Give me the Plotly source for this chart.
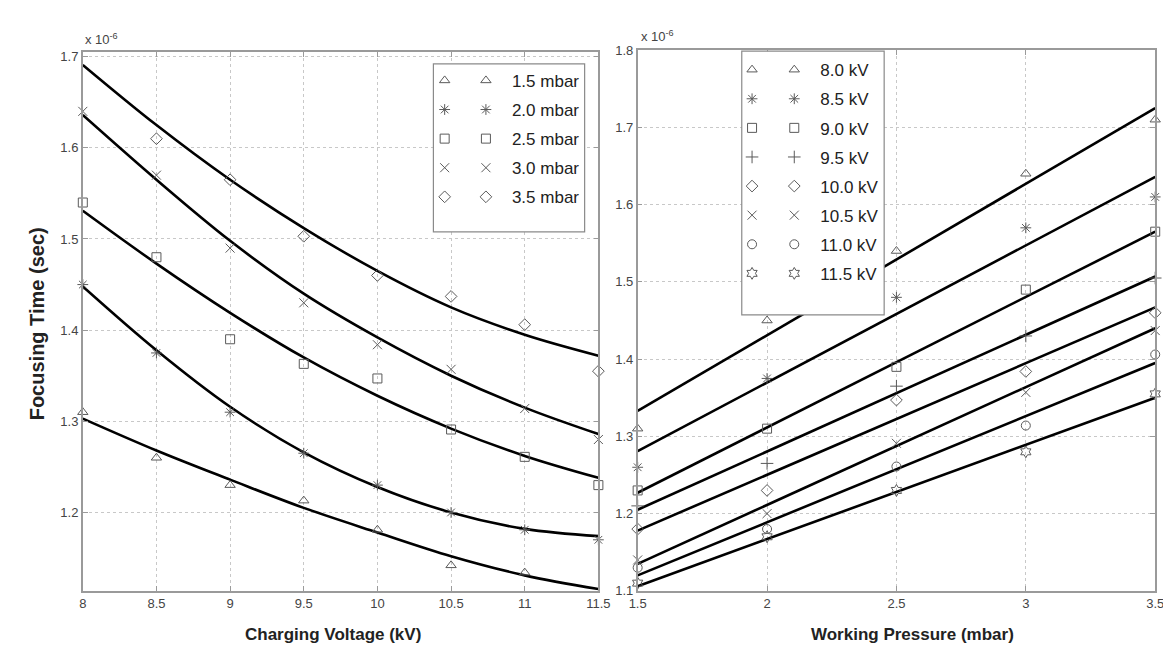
import plotly.graph_objects as go

W, H = 1171, 648

# ---------------- data ----------------
voltage_kv = [8.0, 8.5, 9.0, 9.5, 10.0, 10.5, 11.0, 11.5]
pressure_mbar = [1.5, 2.0, 2.5, 3.0, 3.5]

pressure_names = ["1.5 mbar", "2.0 mbar", "2.5 mbar", "3.0 mbar", "3.5 mbar"]
# measured focusing time (x 1e-6 s) vs charging voltage, one list per pressure
t_p15 = [1.31, 1.26, 1.23, 1.213, 1.181, 1.142, 1.134, 1.112]
t_p20 = [1.45, 1.375, 1.31, 1.265, 1.23, 1.20, 1.181, 1.17]
t_p25 = [1.54, 1.48, 1.39, 1.363, 1.347, 1.291, 1.261, 1.23]
t_p30 = [1.64, 1.57, 1.49, 1.43, 1.384, 1.357, 1.314, 1.28]
t_p35 = [1.71, 1.61, 1.565, 1.503, 1.46, 1.437, 1.406, 1.355]
# fitted curves (x 1e-6 s) vs charging voltage
fit_p15 = [1.303, 1.268, 1.236, 1.205, 1.178, 1.152, 1.131, 1.116]
fit_p20 = [1.448, 1.378, 1.316, 1.266, 1.228, 1.200, 1.182, 1.174]
fit_p25 = [1.531, 1.473, 1.419, 1.370, 1.328, 1.292, 1.262, 1.238]
fit_p30 = [1.636, 1.565, 1.498, 1.440, 1.392, 1.350, 1.315, 1.286]
fit_p35 = [1.691, 1.625, 1.565, 1.512, 1.465, 1.425, 1.395, 1.372]

voltage_names = ["8.0 kV", "8.5 kV", "9.0 kV", "9.5 kV",
                 "10.0 kV", "10.5 kV", "11.0 kV", "11.5 kV"]
# measured focusing time (x 1e-6 s) vs working pressure, one list per voltage
t_v80 = [1.31, 1.45, 1.54, 1.64, 1.71]
t_v85 = [1.26, 1.375, 1.48, 1.57, 1.61]
t_v90 = [1.23, 1.31, 1.39, 1.49, 1.565]
t_v95 = [1.21, 1.265, 1.365, 1.43, 1.505]
t_v100 = [1.18, 1.23, 1.347, 1.384, 1.46]
t_v105 = [1.14, 1.20, 1.291, 1.357, 1.437]
t_v110 = [1.13, 1.18, 1.261, 1.314, 1.406]
t_v115 = [1.11, 1.17, 1.23, 1.28, 1.355]
# linear fits: value at 1.5 mbar and at 3.5 mbar
fit_pressure = [1.5, 3.5]
fit_v80 = [1.333, 1.725]
fit_v85 = [1.281, 1.636]
fit_v90 = [1.227, 1.565]
fit_v95 = [1.205, 1.507]
fit_v100 = [1.178, 1.467]
fit_v105 = [1.135, 1.440]
fit_v110 = [1.120, 1.395]
fit_v115 = [1.106, 1.350]

x1_ticks = [8, 8.5, 9, 9.5, 10, 10.5, 11, 11.5]
x1_ticktext = ["8", "8.5", "9", "9.5", "10", "10.5", "11", "11.5"]
y1_ticks = [1.2, 1.3, 1.4, 1.5, 1.6, 1.7]
x2_ticks = [1.5, 2, 2.5, 3, 3.5]
x2_ticktext = ["1.5", "2", "2.5", "3", "3.5"]
y2_ticks = [1.1, 1.2, 1.3, 1.4, 1.5, 1.6, 1.7, 1.8]

# ---------------- styles ----------------
FONT = "Liberation Sans, Arial, sans-serif"
MCOL = "#5a5a5a"
left_symbols = ["triangle-up-open", "asterisk-open", "square-open", "x-thin-open", "diamond-open"]
right_symbols = ["triangle-up-open", "asterisk-open", "square-open", "cross-thin-open",
                 "diamond-open", "x-thin-open", "circle-open", "hexagram-open"]

def px_x(p):
    return p / W

def px_y(p):
    return 1 - p / H

fig = go.Figure()

left_meas = [t_p15, t_p20, t_p25, t_p30, t_p35]
left_fit = [fit_p15, fit_p20, fit_p25, fit_p30, fit_p35]
for fy in left_fit:
    fig.add_trace(go.Scatter(x=voltage_kv, y=fy, mode="lines",
                             line=dict(color="black", width=2.6, shape="spline", smoothing=1.0),
                             showlegend=False, xaxis="x", yaxis="y", hoverinfo="skip", cliponaxis=False))
for i, (name, sym, ys) in enumerate(zip(pressure_names, left_symbols, left_meas)):
    mk = dict(symbol=sym, size=9, color=MCOL, line=dict(color=MCOL, width=1))
    fig.add_trace(go.Scatter(x=voltage_kv, y=ys, mode="markers", marker=mk, name=name,
                             legend="legend", legendgroup=f"p{i}", xaxis="x", yaxis="y", cliponaxis=False))
    fig.add_trace(go.Scatter(x=[None], y=[None], mode="markers", marker=mk, name=" ",
                             legend="legend2", legendgroup=f"pd{i}", xaxis="x", yaxis="y"))

right_meas = [t_v80, t_v85, t_v90, t_v95, t_v100, t_v105, t_v110, t_v115]
right_fit = [fit_v80, fit_v85, fit_v90, fit_v95, fit_v100, fit_v105, fit_v110, fit_v115]
for fy in right_fit:
    fig.add_trace(go.Scatter(x=fit_pressure, y=fy, mode="lines", line=dict(color="black", width=2.6),
                             showlegend=False, xaxis="x2", yaxis="y2", hoverinfo="skip"))
for i, (name, sym, ys) in enumerate(zip(voltage_names, right_symbols, right_meas)):
    mk = dict(symbol=sym, size=9, color=MCOL, line=dict(color=MCOL, width=1))
    fig.add_trace(go.Scatter(x=pressure_mbar, y=ys, mode="markers", marker=mk, name=name,
                             legend="legend3", legendgroup=f"v{i}", xaxis="x2", yaxis="y2", cliponaxis=False))
    fig.add_trace(go.Scatter(x=[None], y=[None], mode="markers", marker=mk, name=" ",
                             legend="legend4", legendgroup=f"vd{i}", xaxis="x2", yaxis="y2"))

axis_common = dict(showline=True, linecolor="#9a9a9a", linewidth=1.5, mirror="allticks",
                   ticks="inside", ticklen=5, tickcolor="#9a9a9a", showgrid=True,
                   gridcolor="#c8c8c8", griddash="dot", gridwidth=1, zeroline=False,
                   tickfont=dict(family=FONT, size=13, color="#444"))

leg_common = dict(bgcolor="rgba(0,0,0,0)", borderwidth=0, itemwidth=42, xanchor="left", yanchor="top",
                  font=dict(family=FONT, size=17, color="#222"), tracegroupgap=4,
                  traceorder="grouped", itemclick=False, itemdoubleclick=False)

fig.update_layout(
    width=W, height=H, margin=dict(l=0, r=0, t=0, b=0),
    paper_bgcolor="white", plot_bgcolor="white", showlegend=True,
    xaxis=dict(domain=[px_x(67), px_x(592)], range=[8, 11.5], tickvals=x1_ticks, ticktext=x1_ticktext,
               anchor="y", **axis_common),
    yaxis=dict(domain=[px_y(589.5), px_y(38)], range=[1.114, 1.705], tickvals=y1_ticks,
               anchor="x", **axis_common),
    xaxis2=dict(domain=[px_x(632), px_x(1159)], range=[1.5, 3.5], tickvals=x2_ticks, ticktext=x2_ticktext,
                anchor="y2", **axis_common),
    yaxis2=dict(domain=[px_y(589.5), px_y(36)], range=[1.1, 1.8], tickvals=y2_ticks,
                anchor="x2", **axis_common),
    legend=dict(x=px_x(451), y=px_y(49), **leg_common),
    legend2=dict(x=px_x(409), y=px_y(49), **leg_common),
    legend3=dict(x=px_x(765), y=px_y(38), **leg_common),
    legend4=dict(x=px_x(722), y=px_y(38), **leg_common),
    shapes=[
        dict(type="rect", xref="paper", yref="paper", x0=px_x(424), x1=px_x(578), y0=px_y(222), y1=px_y(50),
             fillcolor="white", line=dict(color="#8a8a8a", width=1.2), layer="above"),
        dict(type="rect", xref="paper", yref="paper", x0=px_x(738), x1=px_x(883), y0=px_y(307), y1=px_y(37),
             fillcolor="white", line=dict(color="#8a8a8a", width=1.2), layer="above"),
    ],
    annotations=[
        dict(text="<b>Focusing Time (sec)</b>", x=px_x(20), y=px_y(316), xref="paper", yref="paper",
             xanchor="center", yanchor="middle", textangle=-90, showarrow=False,
             font=dict(family=FONT, size=20, color="#222")),
        dict(text="<b>Charging Voltage (kV)</b>", x=px_x(322), y=px_y(634), xref="paper", yref="paper",
             xanchor="center", yanchor="middle", showarrow=False, font=dict(family=FONT, size=17, color="#222")),
        dict(text="<b>Working Pressure (mbar)</b>", x=px_x(912), y=px_y(634), xref="paper", yref="paper",
             xanchor="center", yanchor="middle", showarrow=False, font=dict(family=FONT, size=17, color="#222")),
        dict(text="x 10<sup>-6</sup>", x=px_x(67), y=px_y(25), xref="paper", yref="paper",
             xanchor="left", yanchor="middle", showarrow=False, font=dict(family=FONT, size=13, color="#444")),
        dict(text="x 10<sup>-6</sup>", x=px_x(633), y=px_y(22), xref="paper", yref="paper",
             xanchor="left", yanchor="middle", showarrow=False, font=dict(family=FONT, size=13, color="#444")),
    ],
)

fig.write_html("out.html")
